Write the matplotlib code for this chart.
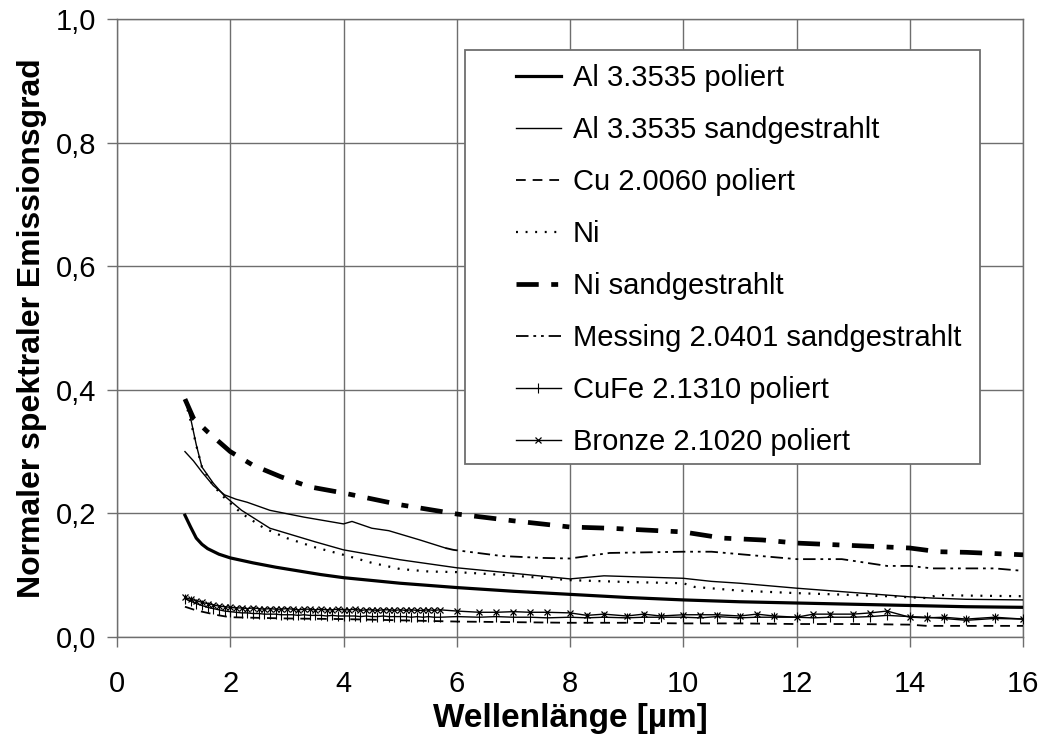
import numpy as np
import matplotlib
matplotlib.use('Agg')
import matplotlib.pyplot as plt
from matplotlib.patches import Rectangle
from matplotlib.ticker import FuncFormatter

# Al 3.3535 poliert
al_pol_x = [1.2, 1.3, 1.4, 1.5, 1.6, 1.8, 2.0, 2.4, 2.8, 3.2, 3.6, 4.0, 5.0, 6.0,
            7.0, 8.0, 9.0, 10.0, 11.0, 12.0, 13.0, 14.0, 15.0, 16.0]
al_pol_y = [0.197, 0.178, 0.160, 0.150, 0.143, 0.134, 0.128, 0.120, 0.113, 0.107, 0.101, 0.096, 0.087, 0.080,
            0.074, 0.069, 0.064, 0.060, 0.057, 0.055, 0.053, 0.051, 0.049, 0.048]

# Al 3.3535 sandgestrahlt
al_sand_x = [1.2, 1.3, 1.4, 1.5, 1.7, 1.9, 2.2, 2.7, 3.1, 3.5, 4.0, 5.0, 6.0, 6.9, 8.0, 8.6,
             9.3, 10.0, 10.5, 11.0, 12.0, 13.0, 14.0, 14.4, 15.0, 16.0]
al_sand_y = [0.383, 0.354, 0.311, 0.275, 0.249, 0.228, 0.205, 0.176, 0.165, 0.154, 0.141, 0.125, 0.112, 0.104, 0.094, 0.099,
             0.097, 0.095, 0.090, 0.087, 0.079, 0.072, 0.065, 0.063, 0.061, 0.060]

# Cu 2.0060 poliert
cu_x = [1.2, 1.3, 1.4, 1.5, 1.6, 1.8, 2.0, 2.5, 3.0, 4.0, 5.0, 6.0, 7.0, 8.0, 9.0, 10.0,
        11.0, 12.0, 13.0, 14.0, 14.3, 15.0, 16.0]
cu_y = [0.049, 0.046, 0.043, 0.041, 0.039, 0.035, 0.032, 0.031, 0.030, 0.029, 0.027, 0.025, 0.024, 0.023, 0.023, 0.022,
        0.022, 0.021, 0.021, 0.020, 0.018, 0.018, 0.018]

# Ni
ni_x = [1.2, 1.3, 1.4, 1.5, 1.7, 1.9, 2.2, 2.6, 3.0, 3.5, 4.0, 4.5, 5.0, 5.5, 6.0, 6.9, 8.0, 9.0,
        10.0, 10.2, 11.0, 12.0, 13.0, 13.6, 14.3, 14.5, 15.0, 16.0]
ni_y = [0.383, 0.350, 0.310, 0.275, 0.245, 0.225, 0.200, 0.176, 0.160, 0.145, 0.133, 0.120, 0.110, 0.106, 0.105, 0.100, 0.092, 0.089,
        0.087, 0.081, 0.075, 0.071, 0.068, 0.066, 0.063, 0.068, 0.067, 0.066]

# Ni sandgestrahlt
ni_sand_x = [1.2, 1.35, 1.6, 2.0, 2.4, 2.9, 3.4, 4.0, 5.0, 6.0, 7.0, 8.0, 8.7, 10.0, 10.7, 11.4,
             12.0, 13.0, 14.0, 14.5, 15.0, 16.0]
ni_sand_y = [0.385, 0.354, 0.332, 0.300, 0.278, 0.259, 0.243, 0.233, 0.214, 0.199, 0.188, 0.178, 0.176, 0.170, 0.160, 0.157,
             0.152, 0.148, 0.144, 0.138, 0.137, 0.133]

# Messing 2.0401 sandgestrahlt (dense points up to 5.8 um)
ms_x = [1.2, 1.35, 1.5, 1.7, 1.9, 2.1, 2.3, 2.7, 3.3, 4.0, 4.15, 4.5, 4.8, 5.35, 5.8,
        5.94, 6.8, 7.5, 8.0, 8.7, 10.0, 10.5, 11.0, 12.0, 12.8, 13.6, 14.0, 14.4, 15.5, 16.0]
ms_y = [0.300, 0.285, 0.267, 0.245, 0.230, 0.223, 0.218, 0.205, 0.194, 0.183, 0.187, 0.176, 0.172, 0.157, 0.144,
        0.141, 0.131, 0.128, 0.127, 0.136, 0.138, 0.138, 0.134, 0.126, 0.126, 0.115, 0.115, 0.111, 0.111, 0.107]
ms_dense = 15

# CuFe 2.1310 poliert / Bronze 2.1020 poliert share the wavelength points
mk_x = [1.2, 1.3, 1.4, 1.5, 1.6, 1.7, 1.8, 1.9, 2.0, 2.1, 2.2, 2.3, 2.4, 2.5, 2.6, 2.7,
        2.8, 2.9, 3.0, 3.1, 3.2, 3.3, 3.4, 3.5, 3.6, 3.7, 3.8, 3.9, 4.0, 4.1, 4.2, 4.3,
        4.4, 4.5, 4.6, 4.7, 4.8, 4.9, 5.0, 5.1, 5.2, 5.3, 5.4, 5.5, 5.6, 5.7,
        6.0, 6.4, 6.7, 7.0, 7.3, 7.6, 8.0, 8.3, 8.6, 9.0, 9.3, 9.6, 10.0, 10.3, 10.6,
        11.0, 11.3, 11.6, 12.0, 12.3, 12.6, 13.0, 13.3, 13.6, 14.0, 14.3, 14.6, 15.0, 15.5, 16.0]
cufe_y = [0.062, 0.058, 0.054, 0.051, 0.048, 0.046, 0.044, 0.042, 0.041, 0.040, 0.039, 0.039, 0.038, 0.038, 0.037, 0.037,
          0.037, 0.036, 0.036, 0.036, 0.035, 0.036, 0.035, 0.035, 0.035, 0.034, 0.035, 0.034, 0.034, 0.034, 0.034, 0.033,
          0.034, 0.033, 0.033, 0.034, 0.033, 0.033, 0.033, 0.033, 0.032, 0.033, 0.032, 0.033, 0.032, 0.032,
          0.033, 0.032, 0.033, 0.032, 0.032, 0.031, 0.032, 0.031, 0.032, 0.031, 0.032, 0.032, 0.032, 0.031, 0.033,
          0.031, 0.032, 0.032, 0.032, 0.031, 0.032, 0.032, 0.033, 0.035, 0.033, 0.032, 0.030, 0.027, 0.030, 0.029]
bronze_y = [0.064, 0.061, 0.059, 0.056, 0.054, 0.052, 0.050, 0.049, 0.048, 0.047, 0.047, 0.046, 0.047, 0.046, 0.045, 0.046,
            0.045, 0.045, 0.046, 0.045, 0.044, 0.045, 0.045, 0.044, 0.045, 0.044, 0.044, 0.045, 0.044, 0.044, 0.045, 0.043,
            0.044, 0.044, 0.043, 0.044, 0.044, 0.043, 0.044, 0.043, 0.044, 0.043, 0.043, 0.044, 0.043, 0.044,
            0.042, 0.040, 0.040, 0.041, 0.040, 0.040, 0.039, 0.035, 0.037, 0.034, 0.037, 0.034, 0.036, 0.036, 0.036,
            0.034, 0.037, 0.034, 0.032, 0.037, 0.037, 0.037, 0.039, 0.042, 0.032, 0.031, 0.032, 0.029, 0.032, 0.029]

y_ticks = [0.0, 0.2, 0.4, 0.6, 0.8, 1.0]
x_ticks = [0, 2, 4, 6, 8, 10, 12, 14, 16]


def main():
    """ build the emissivity chart """
    plt.rcParams['font.family'] = ['Liberation Sans', 'DejaVu Sans']
    plt.rcParams['lines.scale_dashes'] = False

    fig = plt.figure(figsize=(10.43, 7.42), dpi=100)
    ax = fig.add_axes([117 / 1043, 105 / 742, 906 / 1043, 618 / 742])

    # curves
    ax.plot(al_pol_x, al_pol_y, color='k', lw=2.3, label='Al 3.3535 poliert', zorder=3)
    ax.plot(al_sand_x, al_sand_y, color='k', lw=1.0, label='Al 3.3535 sandgestrahlt', zorder=3)
    ax.plot(cu_x, cu_y, color='k', lw=1.3, dashes=(7, 5), label='Cu 2.0060 poliert', zorder=3)
    ax.plot(ni_x, ni_y, color='k', lw=1.6, dashes=(1.4, 5.5), label='Ni', zorder=3)
    ax.plot(ni_sand_x, ni_sand_y, color='k', lw=3.4, dashes=(16, 9, 5, 9), label='Ni sandgestrahlt', zorder=3)
    # dense part of the Messing curve looks solid in the original
    ax.plot(ms_x[:ms_dense], ms_y[:ms_dense], color='k', lw=1.0, zorder=3)
    ax.plot(ms_x[ms_dense - 1:], ms_y[ms_dense - 1:], color='k', lw=1.3, dashes=(9, 3.5, 2, 3.5, 2, 3.5),
            label='Messing 2.0401 sandgestrahlt', zorder=3)
    ax.plot(mk_x, cufe_y, color='k', lw=1.0, marker='|', ms=7, mew=0.8, label='CuFe 2.1310 poliert', zorder=3)
    ax.plot(mk_x, bronze_y, color='k', lw=1.0, marker='x', ms=4.5, mew=0.9, label='Bronze 2.1020 poliert', zorder=3)

    # axes configuration
    ax.set_xlim(0, 16)
    ax.set_ylim(0, 1)
    ax.set_xticks(x_ticks)
    ax.set_yticks(y_ticks)
    ax.yaxis.set_major_formatter(FuncFormatter(lambda v, p: ('%.1f' % v).replace('.', ',')))
    ax.grid(True, color='#6e6e6e', lw=1.0, zorder=1)
    ax.set_axisbelow(True)
    for s in ax.spines.values():
        s.set_color('#6e6e6e')
        s.set_linewidth(1.0)
    ax.tick_params(axis='both', direction='out', length=7, width=1.0, color='#6e6e6e', labelsize=21)
    ax.tick_params(axis='x', pad=17)
    ax.tick_params(axis='y', pad=8)
    ax.set_xlabel('Wellenlänge [µm]', fontsize=24, fontweight='bold', labelpad=3)
    ax.set_ylabel('Normaler spektraler Emissionsgrad', fontsize=23, fontweight='bold', labelpad=6)

    # legend with a wide left margin like the original
    frame = Rectangle((0.3836, 0.2799), 0.5689, 0.6707, transform=ax.transAxes,
                      facecolor='white', edgecolor='#6e6e6e', lw=1.3, zorder=4)
    ax.add_patch(frame)
    leg = ax.legend(loc='upper left', bbox_to_anchor=(0.424, 0.95), frameon=False, fontsize=21,
                    borderpad=0, handlelength=1.55, handletextpad=0.4, labelspacing=0.82)
    leg.set_zorder(5)

    plt.savefig('out.png', dpi=100)
    plt.close()


main()
